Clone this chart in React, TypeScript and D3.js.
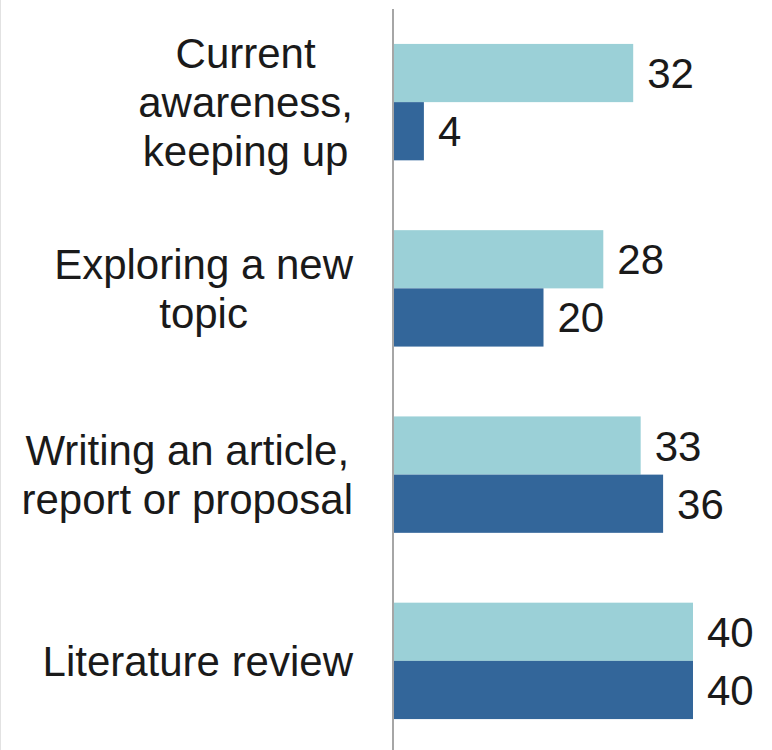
import React, { useMemo } from 'react';
import * as d3 from 'd3';

const categories = [
  "Current awareness, keeping up",
  "Exploring a new topic",
  "Writing an article, report or proposal",
  "Literature review",
];
// how each category label wraps
const labelLines = [
  ["Current", "awareness,", "keeping up"],
  ["Exploring a new", "topic"],
  ["Writing an article,", "report or proposal"],
  ["Literature review"],
];
const seriesNames = ["Series A", "Series B"];
const seriesA = [32, 28, 33, 40];
const seriesB = [4, 20, 36, 40];

const WIDTH = 772;
const HEIGHT = 750;
const AXIS_X = 393;
const FONT = '"Liberation Sans", Arial, sans-serif';
const FONT_SIZE = 42;
const LINE_H = 49;
const colors = ["#9bd0d7", "#33669a"];

const measure = (() => {
  let ctx: CanvasRenderingContext2D | null = null;
  return (s: string) => {
    if (!ctx) {
      ctx = document.createElement("canvas").getContext("2d");
    }
    if (!ctx) return s.length * FONT_SIZE * 0.5;
    ctx.font = `${FONT_SIZE}px "Liberation Sans", Arial, sans-serif`;
    return ctx.measureText(s).width;
  };
})();

const App: React.FC = () => {
  const y = d3.scaleBand<string>()
    .domain(categories)
    .range([9, 754])
    .paddingInner(0.375)
    .paddingOuter(0.1875);

  const inner = d3.scaleBand<string>()
    .domain(seriesNames)
    .range([0, y.bandwidth()]);

  const x = d3.scaleLinear().domain([0, 40]).range([AXIS_X + 1, AXIS_X + 300]);

  const labelWidths = useMemo(
    () => labelLines.map(lines => d3.max(lines, l => measure(l)) || 0),
    []
  );

  const series = [seriesA, seriesB];

  return (
    <svg
      width={WIDTH}
      height={HEIGHT}
      style={{ position: "absolute", left: 0, top: 0, background: "#fff" }}
      fontFamily={FONT}
    >
      <line x1={0.5} x2={0.5} y1={0} y2={HEIGHT} stroke="#e2e2e2" strokeWidth={1} />

      {categories.map((cat, i) => {
        const y0 = y(cat) || 0;
        return (
          <g key={cat}>
            {series.map((vals, s) => {
              const by = y0 + (inner(seriesNames[s]) || 0);
              const bh = inner.bandwidth();
              return (
                <g key={s}>
                  <rect
                    x={x(0)}
                    y={by}
                    width={x(vals[i]) - x(0)}
                    height={bh}
                    fill={colors[s]}
                  />
                  <text
                    x={x(vals[i]) + 14}
                    y={by + bh / 2 + 15}
                    fontSize={FONT_SIZE}
                    fill="#1a1a1a"
                  >
                    {vals[i]}
                  </text>
                </g>
              );
            })}
            {(() => {
              const lines = labelLines[i];
              const cx = 353 - labelWidths[i] / 2;
              const mid = y0 + y.bandwidth() / 2;
              const first = mid + 15 - ((lines.length - 1) * LINE_H) / 2;
              return (
                <text textAnchor="middle" fontSize={FONT_SIZE} fill="#1a1a1a">
                  {lines.map((l, k) => (
                    <tspan key={k} x={cx} y={first + k * LINE_H}>{l}</tspan>
                  ))}
                </text>
              );
            })()}
          </g>
        );
      })}

      <line x1={AXIS_X} x2={AXIS_X} y1={9} y2={HEIGHT} stroke="#a6a6a6" strokeWidth={2} />
    </svg>
  );
};

export default App;
